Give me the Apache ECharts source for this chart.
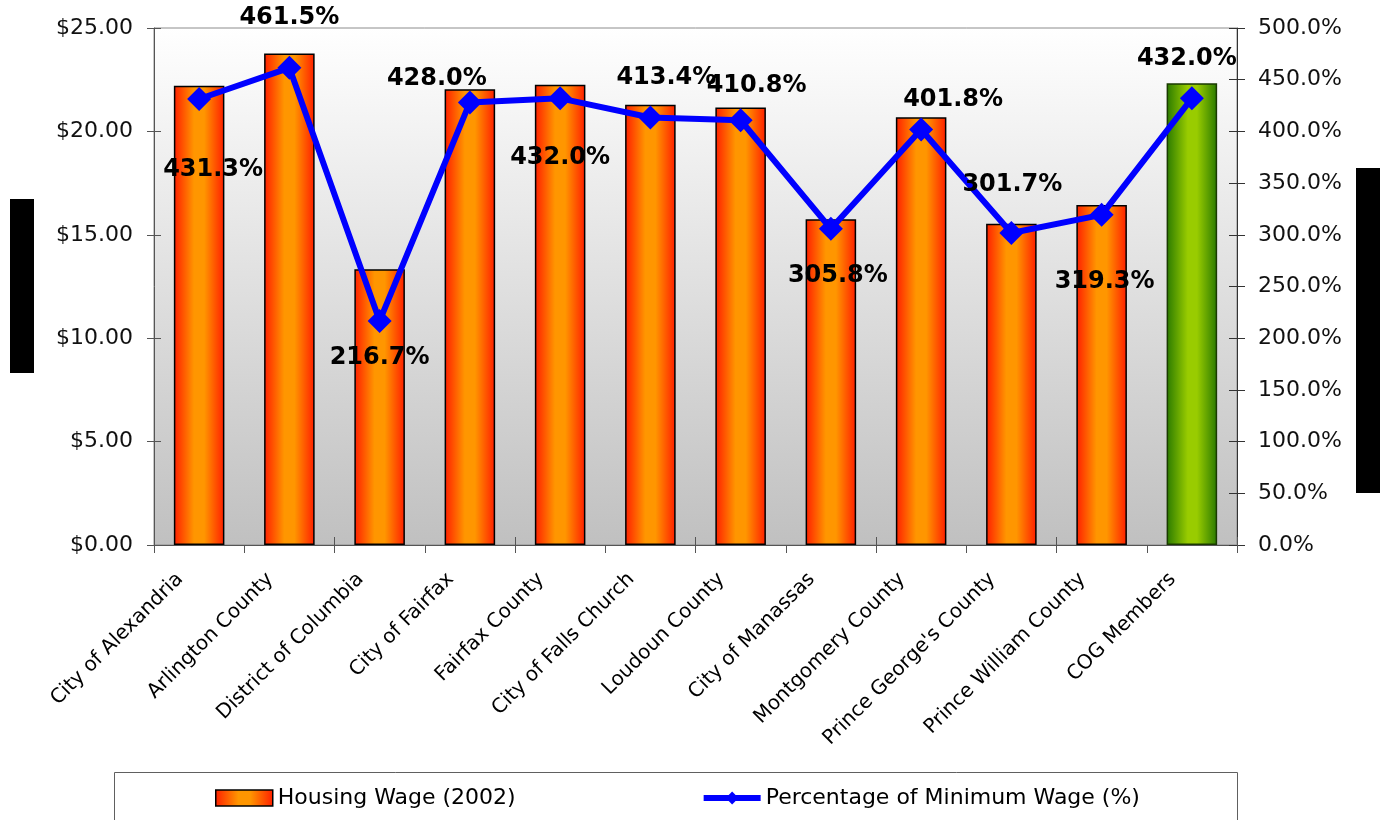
<!DOCTYPE html>
<html>
<head>
<meta charset="utf-8">
<script src="https://cdn.jsdelivr.net/npm/echarts@6/dist/echarts.min.js"></script>
<style>
html,body{margin:0;padding:0;background:#fff;}
#chart{width:1387px;height:820px;}
</style>
</head>
<body>
<div id="chart"></div>
<script>
const categories = ["City of Alexandria","Arlington County","District of Columbia","City of Fairfax","Fairfax County","City of Falls Church","Loudoun County","City of Manassas","Montgomery County","Prince George's County","Prince William County","COG Members"];
const housingWage = [22.21, 23.77, 13.33, 22.04, 22.25, 21.29, 21.16, 15.75, 20.69, 15.54, 16.44, 22.33];
const pctMinWage = [431.3, 461.5, 216.7, 428.0, 432.0, 413.4, 410.8, 305.8, 401.8, 301.7, 319.3, 432.0];
const leftTicks = {min: 0, max: 25, interval: 5};
const rightTicks = {min: 0, max: 500, interval: 50};
const seriesNames = ["Housing Wage (2002)", "Percentage of Minimum Wage (%)"];

const labelOffsets = [[14,71],[0,-50],[0,37],[-33,-24],[0,59],[16,-40],[16,-34],[7,47],[32,-30],[1,-48],[3,67],[-5,-40]];

const G = echarts.graphic.LinearGradient;
const orange = new G(0,0,1,0,[{offset:0,color:'#ff1e00'},{offset:0.4,color:'#ff9600'},{offset:0.6,color:'#ff9600'},{offset:1,color:'#ff1e00'}]);
const green = new G(0,0,1,0,[{offset:0,color:'#2a7a00'},{offset:0.42,color:'#99cc00'},{offset:0.6,color:'#99cc00'},{offset:1,color:'#2a7a00'}]);
const plotBg = new G(0,0,0,1,[{offset:0,color:'#ffffff'},{offset:1,color:'#c0c0c0'}]);

const barData = housingWage.map((v,i)=> i === categories.length-1
  ? {value:v, itemStyle:{color:green, borderColor:'#1a3a00'}} : v);
const lineData = pctMinWage.map((v,i)=>({value:v, label:{offset:labelOffsets[i]}}));

const font = 'DejaVu Sans';
const chart = echarts.init(document.getElementById('chart'), null, {renderer:'canvas'});
chart.setOption({
  animation:false,
  backgroundColor:'#ffffff',
  grid:{left:154, right:150, top:28, bottom:275, show:true, backgroundColor:plotBg, borderColor:'#8c8c8c', borderWidth:1},
  graphic:[
    {type:'rect', shape:{x:10,y:199,width:24,height:174}, style:{fill:'#000'}},
    {type:'rect', shape:{x:1356,y:168,width:24,height:325}, style:{fill:'#000'}},
    {type:'rect', shape:{x:114.5,y:772.5,width:1123,height:60}, style:{fill:'#fff', stroke:'#606060', lineWidth:1}, z:-1}
  ],
  legend:{
    left:210, top:782, itemWidth:57, itemHeight:16, itemGap:185,
    textStyle:{fontFamily:font, fontSize:22, color:'#000'},
    data:[
      {name:seriesNames[0], icon:'rect', itemStyle:{color:orange, borderColor:'#000', borderWidth:1.5}},
      {name:seriesNames[1], lineStyle:{width:6, color:'#0000ff'}, itemStyle:{color:'#0000ff'}}
    ]
  },
  xAxis:[
    {type:'category', data:categories, boundaryGap:true,
     axisLine:{lineStyle:{color:'#555', width:1}},
     axisTick:{show:true, length:8, lineStyle:{color:'#555'}},
     axisLabel:{rotate:45, fontFamily:font, fontSize:20, color:'#000', margin:12, interval:0, padding:[0,27,0,0]}},
    {type:'category', data:categories, boundaryGap:true, position:'bottom', offset:0,
     axisLine:{show:false}, axisTick:{show:true, inside:true, length:8, lineStyle:{color:'#555'}},
     axisLabel:{show:false}}
  ],
  yAxis:[
    {type:'value', position:'left', min:leftTicks.min, max:leftTicks.max, interval:leftTicks.interval,
     axisLine:{show:true, lineStyle:{color:'#555'}}, axisTick:{show:true, length:7, lineStyle:{color:'#555'}},
     splitLine:{show:false},
     axisLabel:{fontFamily:font, fontSize:22, color:'#111', margin:21, formatter:v=>'$'+v.toFixed(2)}},
    {type:'value', position:'right', min:rightTicks.min, max:rightTicks.max, interval:rightTicks.interval,
     axisLine:{show:true, lineStyle:{color:'#333'}}, axisTick:{show:true, length:8, lineStyle:{color:'#333'}},
     splitLine:{show:false},
     axisLabel:{fontFamily:font, fontSize:22, color:'#111', margin:21, formatter:v=>v.toFixed(1)+'%'}},
    {type:'value', position:'left', min:leftTicks.min, max:leftTicks.max, interval:leftTicks.interval,
     axisLine:{show:false}, axisTick:{show:true, inside:true, length:7, lineStyle:{color:'#555'}},
     splitLine:{show:false}, axisLabel:{show:false}},
    {type:'value', position:'right', min:rightTicks.min, max:rightTicks.max, interval:rightTicks.interval,
     axisLine:{show:false}, axisTick:{show:true, inside:true, length:8, lineStyle:{color:'#333'}},
     splitLine:{show:false}, axisLabel:{show:false}}
  ],
  series:[
    {name:seriesNames[0], type:'bar', data:barData, xAxisIndex:0, yAxisIndex:0, barWidth:'56%',
     itemStyle:{color:orange, borderColor:'#000', borderWidth:1.5}},
    {name:seriesNames[1], type:'line', data:lineData, xAxisIndex:0, yAxisIndex:1,
     symbol:'diamond', symbolSize:24, lineStyle:{color:'#0000ff', width:6}, itemStyle:{color:'#0000ff'},
     label:{show:true, position:'inside', fontFamily:font, fontWeight:'bold', fontSize:24, color:'#000',
       formatter:p=>p.value.toFixed(1)+'%'}, z:5}
  ]
});
</script>
</body>
</html>
